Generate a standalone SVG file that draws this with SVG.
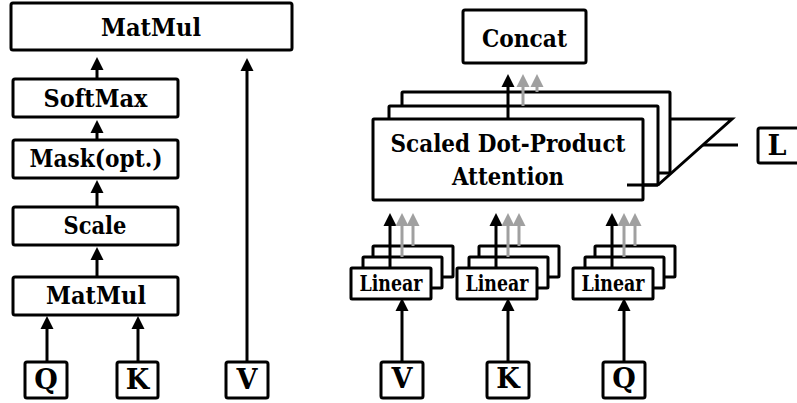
<svg xmlns="http://www.w3.org/2000/svg" width="797" height="403" viewBox="0 0 797 403">
<style>
.b{fill:#fff;stroke:#000;stroke-width:3}
.t{font-family:"DejaVu Serif","Liberation Serif",serif;font-weight:bold;fill:#000;text-anchor:middle}
.c{stroke:#000;stroke-width:3;fill:none}
.g{stroke:#a0a0a0;stroke-width:3;fill:none}
</style>
<defs>
<marker id="ah" markerUnits="userSpaceOnUse" viewBox="0 -7 13 14" markerWidth="13" markerHeight="14" refX="0" refY="0" orient="auto"><path d="M0,-6.5 L13,0 L0,6.5 z" fill="#000"/></marker>
<marker id="ag" markerUnits="userSpaceOnUse" viewBox="0 -7 13 14" markerWidth="13" markerHeight="14" refX="0" refY="0" orient="auto"><path d="M0,-6.5 L13,0 L0,6.5 z" fill="#a0a0a0"/></marker>
</defs>
<rect width="797" height="403" fill="#fff"/>

<!-- Left: scaled dot-product attention -->
<g id="matmul2"><rect class="b" x="11" y="3" width="281" height="47" rx="2"/><text class="t" x="151" y="36" font-size="25" textLength="100" lengthAdjust="spacingAndGlyphs">MatMul</text></g>
<g id="softmax"><rect class="b" x="13" y="79" width="165" height="38" rx="2"/><text class="t" x="95.5" y="107" font-size="25" textLength="104" lengthAdjust="spacingAndGlyphs">SoftMax</text></g>
<g id="mask"><rect class="b" x="13" y="140" width="165" height="38" rx="2"/><text class="t" x="96" y="167" font-size="25" textLength="133" lengthAdjust="spacingAndGlyphs">Mask(opt.)</text></g>
<g id="scale"><rect class="b" x="13" y="207" width="165" height="38" rx="2"/><text class="t" x="95" y="234" font-size="25" textLength="63" lengthAdjust="spacingAndGlyphs">Scale</text></g>
<g id="matmul1"><rect class="b" x="13" y="277" width="165" height="38" rx="2"/><text class="t" x="96" y="304" font-size="25" textLength="100" lengthAdjust="spacingAndGlyphs">MatMul</text></g>
<g id="q1"><rect class="b" x="25" y="362" width="42" height="36" rx="2"/><text class="t" x="46" y="389" font-size="27">Q</text></g>
<g id="k1"><rect class="b" x="117" y="362" width="41" height="36" rx="2"/><text class="t" x="137.5" y="389" font-size="27">K</text></g>
<g id="v1"><rect class="b" x="226" y="362" width="42" height="36" rx="2"/><text class="t" x="247" y="389" font-size="27">V</text></g>

<!-- Right: multi-head attention -->
<g id="concat"><rect class="b" x="463" y="10" width="123" height="53" rx="2"/><text class="t" x="524.5" y="47" font-size="25" textLength="85" lengthAdjust="spacingAndGlyphs">Concat</text></g>
<g id="sdpa">
<rect class="b" x="402" y="92" width="268" height="81" rx="1"/>
<rect class="b" x="389" y="106" width="269" height="79" rx="1"/>
<rect class="b" x="373" y="119" width="270" height="81" rx="1"/>
<text class="t" x="508" y="152" font-size="25" textLength="235" lengthAdjust="spacingAndGlyphs">Scaled Dot-Product</text>
<text class="t" x="508" y="185" font-size="25" textLength="112" lengthAdjust="spacingAndGlyphs">Attention</text>
</g>
<g id="hlabel"><rect class="b" x="758" y="128" width="60" height="35" rx="2"/><text class="t" x="777" y="155" font-size="27">L</text></g>

<g id="linV">
<rect class="b" x="373" y="246" width="80" height="31" rx="1"/>
<rect class="b" x="363" y="257" width="79" height="31" rx="1"/>
<rect class="b" x="351" y="268" width="80" height="31" rx="1"/>
<text class="t" x="391" y="291" font-size="22" textLength="63" lengthAdjust="spacingAndGlyphs">Linear</text>
</g>
<g id="linK">
<rect class="b" x="479" y="246" width="80" height="31" rx="1"/>
<rect class="b" x="469" y="257" width="79" height="31" rx="1"/>
<rect class="b" x="457" y="268" width="80" height="31" rx="1"/>
<text class="t" x="497" y="291" font-size="22" textLength="63" lengthAdjust="spacingAndGlyphs">Linear</text>
</g>
<g id="linQ">
<rect class="b" x="595" y="246" width="80" height="31" rx="1"/>
<rect class="b" x="585" y="257" width="79" height="31" rx="1"/>
<rect class="b" x="573" y="268" width="80" height="31" rx="1"/>
<text class="t" x="613" y="291" font-size="22" textLength="63" lengthAdjust="spacingAndGlyphs">Linear</text>
</g>
<g id="v2"><rect class="b" x="381" y="362" width="42" height="36" rx="2"/><text class="t" x="402" y="388" font-size="27">V</text></g>
<g id="k2"><rect class="b" x="487" y="362" width="42" height="36" rx="2"/><text class="t" x="508" y="388" font-size="27">K</text></g>
<g id="q2"><rect class="b" x="603" y="362" width="42" height="36" rx="2"/><text class="t" x="624" y="388" font-size="27">Q</text></g>

<g id="connectors">
<line class="c" x1="97" y1="79" x2="97" y2="70" marker-end="url(#ah)"/>
<line class="c" x1="97" y1="140" x2="97" y2="133" marker-end="url(#ah)"/>
<line class="c" x1="97" y1="207" x2="97" y2="193" marker-end="url(#ah)"/>
<line class="c" x1="97" y1="277" x2="97" y2="260" marker-end="url(#ah)"/>
<line class="c" x1="47" y1="362" x2="47" y2="329" marker-end="url(#ah)"/>
<line class="c" x1="138" y1="362" x2="138" y2="329" marker-end="url(#ah)"/>
<line class="c" x1="247" y1="362" x2="247" y2="71" marker-end="url(#ah)"/>

<line class="c" x1="508" y1="119" x2="508" y2="87" marker-end="url(#ah)"/>
<line class="g" x1="523" y1="106" x2="523" y2="87" marker-end="url(#ag)"/>
<line class="g" x1="537" y1="92" x2="537" y2="87" marker-end="url(#ag)"/>

<line class="c" x1="627" y1="185" x2="658" y2="185" stroke-width="4"/>
<polyline class="c" points="670,119 732,119 658,185"/>
<line class="c" x1="703" y1="145" x2="738" y2="145"/>

<line class="c" x1="390" y1="268" x2="390" y2="226" marker-end="url(#ah)"/>
<line class="g" x1="402" y1="257" x2="402" y2="226" marker-end="url(#ag)"/>
<line class="g" x1="413" y1="246" x2="413" y2="226" marker-end="url(#ag)"/>
<line class="c" x1="402" y1="362" x2="402" y2="311" marker-end="url(#ah)"/>

<line class="c" x1="496" y1="268" x2="496" y2="226" marker-end="url(#ah)"/>
<line class="g" x1="508" y1="257" x2="508" y2="226" marker-end="url(#ag)"/>
<line class="g" x1="519" y1="246" x2="519" y2="226" marker-end="url(#ag)"/>
<line class="c" x1="508" y1="362" x2="508" y2="311" marker-end="url(#ah)"/>

<line class="c" x1="612" y1="268" x2="612" y2="226" marker-end="url(#ah)"/>
<line class="g" x1="624" y1="257" x2="624" y2="226" marker-end="url(#ag)"/>
<line class="g" x1="635" y1="246" x2="635" y2="226" marker-end="url(#ag)"/>
<line class="c" x1="624" y1="362" x2="624" y2="311" marker-end="url(#ah)"/>
</g>
</svg>
